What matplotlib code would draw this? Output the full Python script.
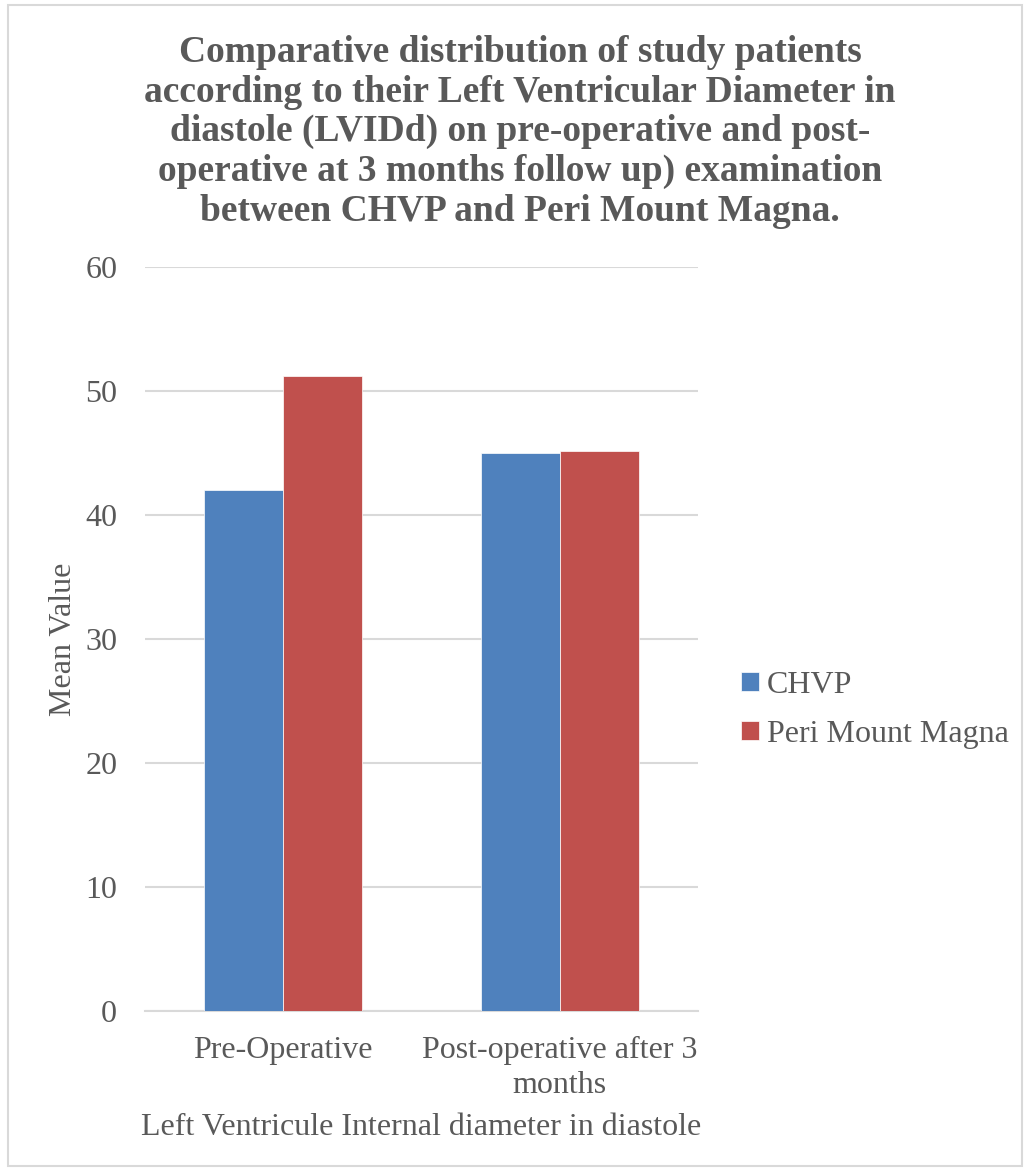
import numpy as np
import matplotlib.pyplot as plt
from matplotlib.patches import Rectangle

# Donnees
categories = ['Pre-Operative', 'Post-operative after 3\nmonths']
chvp = [42.0, 45.0]
peri_mount = [51.24, 45.13]
series_names = ['CHVP', 'Peri Mount Magna']

plt.rcParams['font.family'] = ['Liberation Serif', 'DejaVu Serif']
text_col = '#595959'
fs = 23

fig = plt.figure(figsize=(10.26, 11.71), dpi=100)
fig.patches.append(Rectangle((0.008, 0.004), 0.988, 0.992, transform=fig.transFigure,
                             fill=False, edgecolor='#D9D9D9', linewidth=1.5))
ax = fig.add_axes([0.1413, 0.1366, 0.539, 0.6354])

x = np.arange(len(categories))
w = 0.285
ax.bar(x - w / 2, chvp, w, color='#4F81BD', label=series_names[0], edgecolor='white', linewidth=0.5, zorder=3)
ax.bar(x + w / 2, peri_mount, w, color='#C0504D', label=series_names[1], edgecolor='white', linewidth=0.5, zorder=3)

ax.set_xlim(-0.5, 1.5)
ax.set_ylim(0, 60)
ax.set_yticks(range(0, 61, 10))
ax.yaxis.grid(True, color='#D9D9D9', linewidth=1.5, zorder=0)
for s in ['top', 'right', 'left']:
    ax.spines[s].set_visible(False)
ax.spines['bottom'].set_color('#D9D9D9')
ax.spines['bottom'].set_linewidth(1.5)
ax.tick_params(axis='both', length=0, labelsize=fs, colors=text_col)
ax.tick_params(axis='y', pad=20)
ax.tick_params(axis='x', pad=18)
ax.set_xticks(x)
ax.set_xticklabels(categories, linespacing=1.25)
ax.set_ylabel('Mean Value', fontsize=fs, color=text_col, labelpad=5)
ax.set_xlabel('Left Ventricule Internal diameter in diastole', fontsize=fs, color=text_col, labelpad=10)

ax.legend(loc='center left', bbox_to_anchor=(1.055, 0.405), frameon=False, fontsize=fs,
          labelcolor=text_col, handlelength=0.55, handleheight=0.55, handletextpad=0.25,
          labelspacing=0.62, borderaxespad=0)

fig.text(0.507, 0.970,
         'Comparative distribution of study patients\n'
         'according to their Left Ventricular Diameter in\n'
         'diastole (LVIDd) on pre-operative and post-\n'
         'operative at 3 months follow up) examination\n'
         'between CHVP and Peri Mount Magna.',
         ha='center', va='top', fontsize=27, fontweight='bold', color=text_col, linespacing=1.17)

fig.savefig('out.png', dpi=100)
